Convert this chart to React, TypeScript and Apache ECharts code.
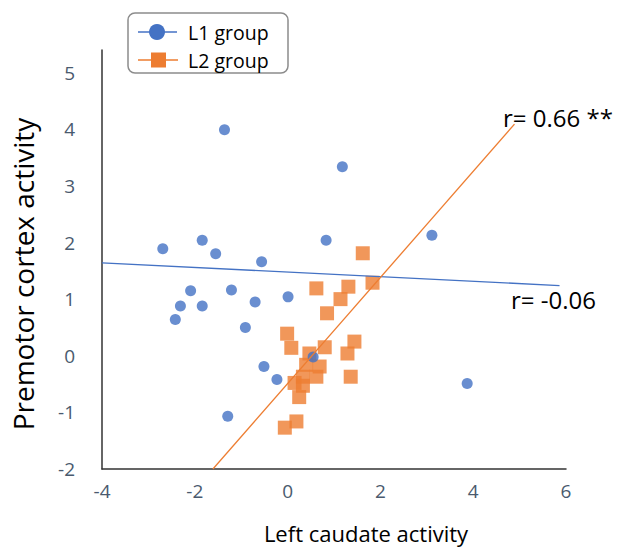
import React, { useEffect, useRef } from "react";
import * as echarts from "echarts";

// L1 group (blue circles)
const l1X = [-1.36, 1.18, -2.69, -1.84, -1.55, -0.56, 0.83, 3.11, -2.09, -1.21, -2.31, -1.84, -0.70, 0.01, -2.42, -0.91, -0.51, -0.23, -1.29, 0.55, 3.87];
const l1Y = [3.99, 3.34, 1.89, 2.04, 1.80, 1.66, 2.04, 2.13, 1.15, 1.16, 0.88, 0.88, 0.95, 1.04, 0.64, 0.50, -0.19, -0.42, -1.07, -0.02, -0.49];

// L2 group (orange squares)
const l2X = [1.62, 0.62, 1.31, 1.83, 1.14, 0.85, -0.01, 0.08, 0.80, 1.44, 1.29, 0.47, 0.40, 0.69, 0.62, 0.33, 0.15, 0.33, 1.36, 0.25, 0.19, -0.06];
const l2Y = [1.81, 1.19, 1.22, 1.29, 1.00, 0.75, 0.39, 0.14, 0.15, 0.25, 0.04, 0.04, -0.16, -0.19, -0.37, -0.37, -0.48, -0.53, -0.37, -0.73, -1.16, -1.27];

// trend lines (end points)
const l1TrendX = [-4, 5.86];
const l1TrendY = [1.64, 1.24];
const l2TrendX = [-1.61, 4.89];
const l2TrendY = [-2, 4.09];

const seriesNames = ["L1 group", "L2 group"];
const rLabels = ["r= -0.06", "r= 0.66 **"];
const xTitle = "Left caudate activity";
const yTitle = "Premotor cortex activity";

const BLUE = "#4472C4";
const ORANGE = "#ED7D31";
const TICK = "#4a5a6e";
const FONT = "'Open Sans', 'Noto Sans', sans-serif";

const zip = (xs: number[], ys: number[]) => xs.map((x, i) => [x, ys[i]]);

export default function App() {
  const ref = useRef<HTMLDivElement>(null);
  useEffect(() => {
    if (!ref.current) return;
    const chart = echarts.init(ref.current, null, { renderer: "svg" });
    chart.setOption({
      animation: false,
      backgroundColor: "#fff",
      grid: { left: 102, right: 52, top: 50, bottom: 83 },
      xAxis: {
        type: "value",
        min: -4,
        max: 6,
        interval: 2,
        splitLine: { show: false },
        axisTick: { show: false },
        axisLine: { onZero: false, lineStyle: { color: "#333", width: 1.5 } },
        axisLabel: { color: TICK, fontSize: 19, fontFamily: FONT, margin: 12 },
      },
      yAxis: {
        type: "value",
        min: -2,
        max: 5.4,
        interval: 1,
        splitLine: { show: false },
        axisTick: { show: false },
        axisLine: { show: true, onZero: false, lineStyle: { color: "#333", width: 1.5 } },
        axisLabel: {
          color: TICK,
          fontSize: 19,
          fontFamily: FONT,
          margin: 27,
          showMaxLabel: false,
          formatter: (v: number) => (Number.isInteger(v) ? String(v) : ""),
        },
      },
      series: [
        {
          name: seriesNames[1],
          type: "scatter",
          symbol: "rect",
          symbolSize: 14,
          itemStyle: { color: ORANGE },
          data: zip(l2X, l2Y),
          z: 2,
        },
        {
          name: seriesNames[0],
          type: "scatter",
          symbol: "circle",
          symbolSize: 11,
          itemStyle: { color: BLUE },
          data: zip(l1X, l1Y),
          z: 3,
        },
        {
          name: seriesNames[0] + " trend",
          type: "line",
          showSymbol: false,
          symbol: "none",
          lineStyle: { color: BLUE, width: 1.3 },
          data: zip(l1TrendX, l1TrendY),
          z: 4,
        },
        {
          name: seriesNames[1] + " trend",
          type: "line",
          showSymbol: false,
          symbol: "none",
          lineStyle: { color: ORANGE, width: 1.3 },
          data: zip(l2TrendX, l2TrendY),
          z: 4,
        },
      ],
      graphic: [
        {
          type: "rect",
          shape: { x: 128, y: 13, width: 160, height: 60, r: 7 },
          style: { fill: "#fff", stroke: "#8c8c8c", lineWidth: 1.5 },
          z: 10,
        },
        { type: "line", shape: { x1: 138, y1: 32, x2: 177, y2: 32 }, style: { stroke: BLUE, lineWidth: 1.5 }, z: 11 },
        { type: "circle", shape: { cx: 157, cy: 32, r: 8 }, style: { fill: BLUE }, z: 12 },
        { type: "line", shape: { x1: 138, y1: 60, x2: 178, y2: 60 }, style: { stroke: ORANGE, lineWidth: 1.5 }, z: 11 },
        { type: "rect", shape: { x: 151, y: 52.5, width: 15, height: 15 }, style: { fill: ORANGE }, z: 12 },
        {
          type: "text",
          x: 188,
          y: 32,
          style: { text: seriesNames[0], fontSize: 19.5, fontFamily: FONT, fill: "#000", textVerticalAlign: "middle" },
          z: 12,
        },
        {
          type: "text",
          x: 188,
          y: 60,
          style: { text: seriesNames[1], fontSize: 19.5, fontFamily: FONT, fill: "#000", textVerticalAlign: "middle" },
          z: 12,
        },
        {
          type: "text",
          x: 503,
          y: 117,
          style: { text: rLabels[1], fontSize: 24, fontFamily: FONT, fill: "#000", textVerticalAlign: "middle" },
        },
        {
          type: "text",
          x: 511,
          y: 299,
          style: { text: rLabels[0], fontSize: 24, fontFamily: FONT, fill: "#000", textVerticalAlign: "middle" },
        },
        {
          type: "text",
          x: 366,
          y: 533,
          style: { text: xTitle, fontSize: 22, fontFamily: FONT, fill: "#000", textAlign: "center", textVerticalAlign: "middle" },
        },
        {
          type: "text",
          x: 23,
          y: 274,
          rotation: Math.PI / 2,
          style: { text: yTitle, fontSize: 28, fontFamily: FONT, fill: "#000", textAlign: "center", textVerticalAlign: "middle" },
        },
      ],
    });
    return () => chart.dispose();
  }, []);
  return (
    <div
      ref={ref}
      style={{ position: "absolute", left: 0, top: 0, width: 618, height: 552 }}
    />
  );
}
